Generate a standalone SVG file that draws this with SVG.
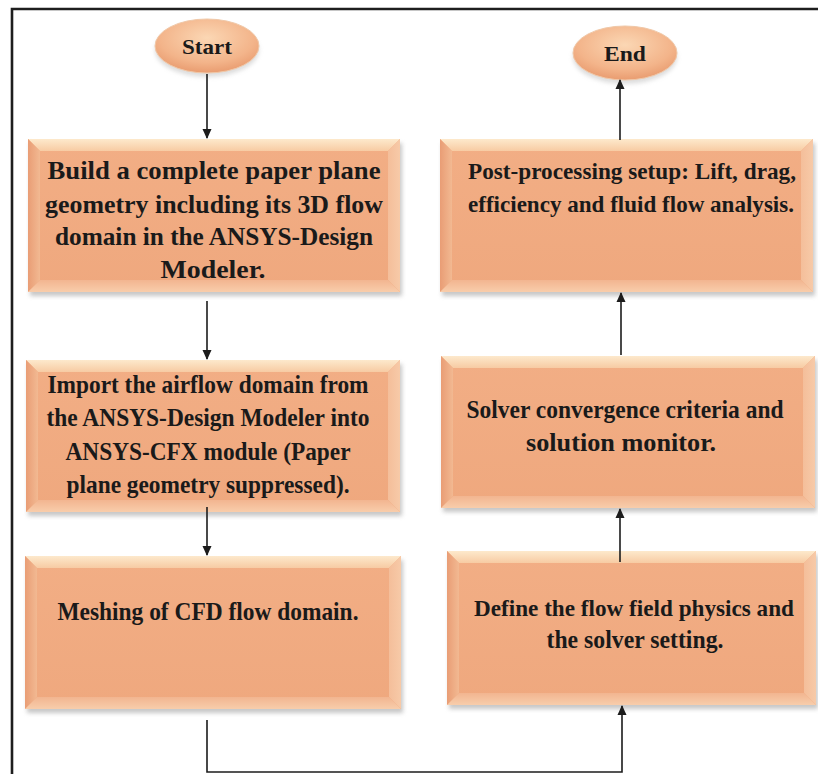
<svg xmlns="http://www.w3.org/2000/svg" width="818" height="774" viewBox="0 0 818 774">
<defs>
<linearGradient id="gTop" x1="0" y1="0" x2="0" y2="1"><stop offset="0" stop-color="#FDE9CC"/><stop offset="1" stop-color="#F7CBA3"/></linearGradient>
<linearGradient id="gLeft" x1="0" y1="0" x2="1" y2="0"><stop offset="0" stop-color="#E99D75"/><stop offset="1" stop-color="#F2B992"/></linearGradient>
<linearGradient id="gRight" x1="0" y1="0" x2="1" y2="0"><stop offset="0" stop-color="#F4BE9A"/><stop offset="1" stop-color="#F7CAA8"/></linearGradient>
<linearGradient id="gBot" x1="0" y1="0" x2="0" y2="1"><stop offset="0" stop-color="#F2B590"/><stop offset="1" stop-color="#F8CDAB"/></linearGradient>
<linearGradient id="gFace" x1="0" y1="0" x2="0" y2="1"><stop offset="0" stop-color="#F2AE85"/><stop offset="1" stop-color="#EFA87E"/></linearGradient>
<radialGradient id="gEll" cx="0.5" cy="0.35" r="0.65"><stop offset="0" stop-color="#FBD7B4"/><stop offset="0.7" stop-color="#F3B48A"/><stop offset="1" stop-color="#E99C70"/></radialGradient>
<filter id="sh" x="-5%" y="-5%" width="110%" height="115%"><feGaussianBlur stdDeviation="2"/></filter>
<marker id="ah" viewBox="0 0 10 10" refX="9" refY="5" markerWidth="10" markerHeight="10" markerUnits="userSpaceOnUse" orient="auto"><path d="M0,0.5 L10,5 L0,9.5 Z" fill="#1c1c1c"/></marker>
</defs>
<style>
.shadow{fill:#9a9a9a;opacity:0.55;filter:url(#sh)}
.face{fill:url(#gFace)}
.bt{fill:url(#gTop)}
.bl{fill:url(#gLeft)}
.br{fill:url(#gRight)}
.bb{fill:url(#gBot)}
.ell{fill:url(#gEll);stroke:#F0C8A8;stroke-width:1}
.t{font-family:"Liberation Serif","Times New Roman",serif;font-weight:bold;font-size:26px;fill:#1a1a1a;text-anchor:middle}
.s{font-size:24px}
.te{font-size:22px}
.conn{fill:none;stroke:#1c1c1c;stroke-width:1.6}
.frame{fill:none;stroke:#1e1e1e;stroke-width:2.6}
</style>
<rect x="0" y="0" width="818" height="774" fill="#ffffff"/>
<path class="frame" d="M12,774 L12,9 L818,9"/>

<g id="start">
<ellipse cx="207" cy="47" rx="52" ry="27" fill="#bbb" opacity="0.5" filter="url(#sh)" transform="translate(0,3)"/>
<ellipse class="ell" cx="207" cy="46" rx="52" ry="27"/>
<text class="t te" x="207" y="54" textLength="50" lengthAdjust="spacingAndGlyphs">Start</text>
</g>

<g id="end">
<ellipse cx="625" cy="54" rx="52" ry="27" fill="#bbb" opacity="0.5" filter="url(#sh)" transform="translate(0,3)"/>
<ellipse class="ell" cx="625" cy="53" rx="52" ry="27"/>
<text class="t te" x="625" y="61" textLength="42" lengthAdjust="spacingAndGlyphs">End</text>
</g>

<g id="box1">
<rect class="shadow" x="30" y="143" width="372" height="153"/>
<rect class="face" x="28" y="139" width="372" height="153"/>
<polygon class="bt" points="28,139 400,139 388,151 40,151"/>
<polygon class="bl" points="28,139 40,151 40,280 28,292"/>
<polygon class="br" points="400,139 400,292 388,280 388,151"/>
<polygon class="bb" points="28,292 400,292 388,280 40,280"/>
<text class="t" x="214" y="179" textLength="333" lengthAdjust="spacingAndGlyphs">Build a complete paper plane</text>
<text class="t" x="214" y="213" textLength="338" lengthAdjust="spacingAndGlyphs">geometry including its 3D flow</text>
<text class="t" x="214" y="245" textLength="318" lengthAdjust="spacingAndGlyphs">domain in the ANSYS-Design</text>
<text class="t" x="213" y="278" textLength="105" lengthAdjust="spacingAndGlyphs">Modeler.</text>
</g>

<g id="box2">
<rect class="shadow" x="28" y="364" width="374" height="152"/>
<rect class="face" x="26" y="360" width="374" height="152"/>
<polygon class="bt" points="26,360 400,360 388,372 38,372"/>
<polygon class="bl" points="26,360 38,372 38,500 26,512"/>
<polygon class="br" points="400,360 400,512 388,500 388,372"/>
<polygon class="bb" points="26,512 400,512 388,500 38,500"/>
<text class="t" x="208" y="393" textLength="321" lengthAdjust="spacingAndGlyphs">Import the airflow domain from</text>
<text class="t" x="208" y="426" textLength="323" lengthAdjust="spacingAndGlyphs">the ANSYS-Design Modeler into</text>
<text class="t" x="208" y="460" textLength="285" lengthAdjust="spacingAndGlyphs">ANSYS-CFX module (Paper</text>
<text class="t" x="208" y="493" textLength="283" lengthAdjust="spacingAndGlyphs">plane geometry suppressed).</text>
</g>

<g id="box3">
<rect class="shadow" x="27" y="560" width="376" height="153"/>
<rect class="face" x="25" y="556" width="376" height="153"/>
<polygon class="bt" points="25,556 401,556 389,568 37,568"/>
<polygon class="bl" points="25,556 37,568 37,697 25,709"/>
<polygon class="br" points="401,556 401,709 389,697 389,568"/>
<polygon class="bb" points="25,709 401,709 389,697 37,697"/>
<text class="t" x="208" y="620" textLength="301" lengthAdjust="spacingAndGlyphs">Meshing of CFD flow domain.</text>
</g>

<g id="box4">
<rect class="shadow" x="442" y="143" width="373" height="153"/>
<rect class="face" x="440" y="139" width="373" height="153"/>
<polygon class="bt" points="440,139 813,139 801,151 452,151"/>
<polygon class="bl" points="440,139 452,151 452,280 440,292"/>
<polygon class="br" points="813,139 813,292 801,280 801,151"/>
<polygon class="bb" points="440,292 813,292 801,280 452,280"/>
<text class="t s" x="632" y="179" textLength="328" lengthAdjust="spacingAndGlyphs">Post-processing setup: Lift, drag,</text>
<text class="t s" x="631" y="212" textLength="326" lengthAdjust="spacingAndGlyphs">efficiency and fluid flow analysis.</text>
</g>

<g id="box5">
<rect class="shadow" x="443" y="360" width="374" height="152"/>
<rect class="face" x="441" y="356" width="374" height="152"/>
<polygon class="bt" points="441,356 815,356 803,368 453,368"/>
<polygon class="bl" points="441,356 453,368 453,496 441,508"/>
<polygon class="br" points="815,356 815,508 803,496 803,368"/>
<polygon class="bb" points="441,508 815,508 803,496 453,496"/>
<text class="t" x="625" y="418" textLength="317" lengthAdjust="spacingAndGlyphs">Solver convergence criteria and</text>
<text class="t" x="621" y="451" textLength="190" lengthAdjust="spacingAndGlyphs">solution monitor.</text>
</g>

<g id="box6">
<rect class="shadow" x="449" y="555" width="369" height="154"/>
<rect class="face" x="447" y="551" width="369" height="154"/>
<polygon class="bt" points="447,551 816,551 804,563 459,563"/>
<polygon class="bl" points="447,551 459,563 459,693 447,705"/>
<polygon class="br" points="816,551 816,705 804,693 804,563"/>
<polygon class="bb" points="447,705 816,705 804,693 459,693"/>
<text class="t s" x="634" y="616" textLength="320" lengthAdjust="spacingAndGlyphs">Define the flow field physics and</text>
<text class="t" x="635" y="648" textLength="177" lengthAdjust="spacingAndGlyphs">the solver setting.</text>
</g>

<g id="connectors">
<line class="conn" x1="207" y1="74" x2="207" y2="138" marker-end="url(#ah)"/>
<line class="conn" x1="207" y1="301" x2="207" y2="359" marker-end="url(#ah)"/>
<line class="conn" x1="207" y1="507" x2="207" y2="555" marker-end="url(#ah)"/>
<polyline class="conn" points="207,720 207,772 622,772 622,706" marker-end="url(#ah)"/>
<line class="conn" x1="620" y1="562" x2="620" y2="509" marker-end="url(#ah)"/>
<line class="conn" x1="621" y1="355" x2="621" y2="293" marker-end="url(#ah)"/>
<line class="conn" x1="620" y1="140" x2="620" y2="80" marker-end="url(#ah)"/>
</g>
</svg>
